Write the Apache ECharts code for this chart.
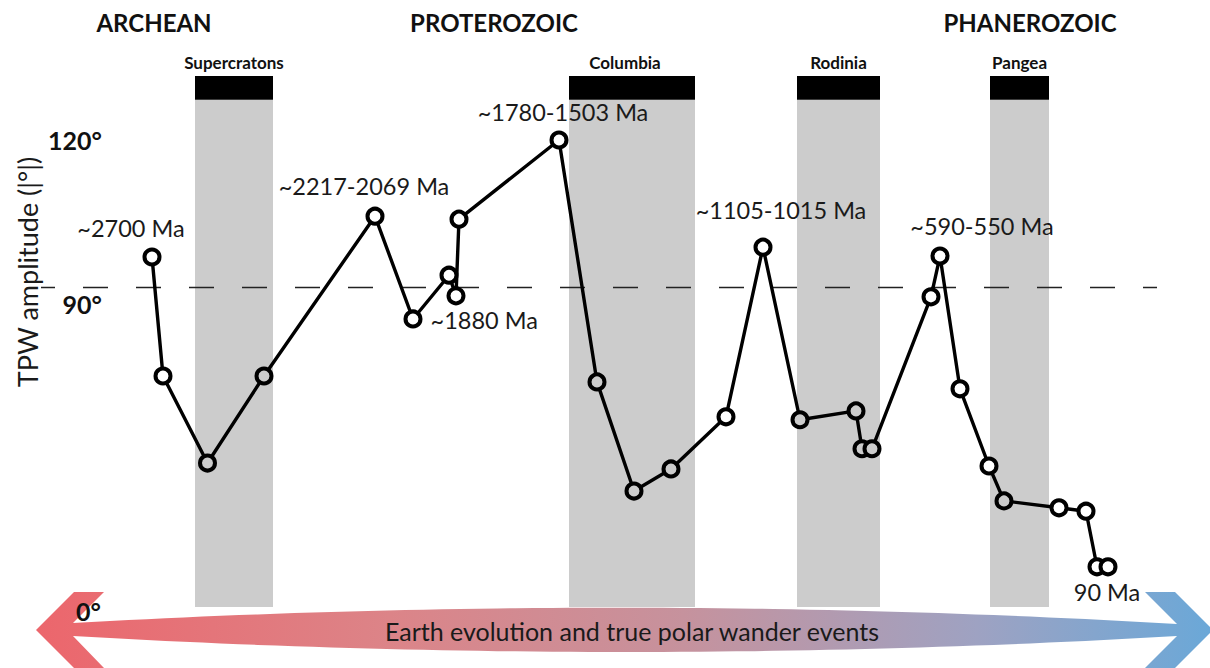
<!DOCTYPE html>
<html>
<head>
<meta charset="utf-8">
<script src="https://cdn.jsdelivr.net/npm/echarts@6/dist/echarts.min.js"></script>
<style>
html,body{margin:0;padding:0;background:#ffffff;}
#chart{width:1210px;height:668px;}
</style>
</head>
<body>
<div id="chart"></div>
<script>
// ---------- data ----------
// schematic time position along the evolution arrow (old -> young)
const xPos = [15.2, 16.3, 20.75, 26.4, 37.5, 41.3, 44.9, 45.6, 45.9, 55.9,
              59.7, 63.4, 67.1, 72.6, 76.3, 80.0, 85.6, 86.2, 87.2, 93.1,
              94.0, 96.0, 98.9, 100.4, 105.9, 108.6, 109.7, 110.8];
// TPW amplitude |°|
const tpw = [96.2, 72.0, 54.3, 72.0, 104.5, 83.6, 92.5, 88.3, 103.9, 120.0,
             70.8, 48.6, 53.1, 63.7, 98.2, 63.1, 64.9, 57.2, 57.2, 88.1,
             96.4, 69.4, 53.7, 46.6, 45.2, 44.5, 33.2, 33.2];
const eventIndex = [0, 4, 5, 9, 14, 20, 27];
const eventText = ['~2700 Ma', '~2217-2069 Ma', '~1880 Ma', '~1780-1503 Ma',
                   '~1105-1015 Ma', '~590-550 Ma', '90 Ma'];
const bandNames = ['Supercratons', 'Columbia', 'Rodinia', 'Pangea'];
const bandStart = [19.5, 56.9, 79.7, 99.0];
const bandEnd   = [27.3, 69.5, 88.0, 104.9];
const eraNames  = ['ARCHEAN', 'PROTEROZOIC', 'PHANEROZOIC'];
const eraCenter = [15.4, 49.4, 103.0];
const yTickValues = [120, 90];
const yTickText   = ['120°', '90°'];
const zeroText  = '0°';
const refLevel  = 90;
const refStart  = 4.1;
const refEnd    = 115.7;
const axisTitle = 'TPW amplitude (|°|)';
const arrowText = 'Earth evolution and true polar wander events';

// ---------- styling ----------
const FONT = 'Lato, "Open Sans", sans-serif';
const Y_MIN = 25, Y_MAX = 133;
const BAND_GRAY_TOP = 128.2;
const labelPlace = [
  {position: 'top',    offset: [-21, -3]},
  {position: 'top',    offset: [-11, -4]},
  {position: 'right',  offset: [3, 1]},
  {position: 'top',    offset: [4, -1]},
  {position: 'top',    offset: [18, -11]},
  {position: 'top',    offset: [42, -4]},
  {position: 'bottom', offset: [-1, -1]}
];

function inBand(x) {
  for (let i = 0; i < bandStart.length; i++) {
    if (x >= bandStart[i] && x <= bandEnd[i]) return true;
  }
  return false;
}

const lineData = xPos.map((x, i) => {
  const item = {
    value: [x, tpw[i]],
    itemStyle: {color: inBand(x) ? '#cccccc' : '#ffffff'}
  };
  const k = eventIndex.indexOf(i);
  if (k >= 0) {
    item.label = {
      show: true,
      formatter: eventText[k],
      position: labelPlace[k].position,
      offset: labelPlace[k].offset,
      distance: 5,
      fontFamily: FONT,
      fontSize: 23.5,
      color: '#1a1a1a'
    };
  }
  return item;
});

const grayAreas = bandNames.map((n, i) => [
  {xAxis: bandStart[i], yAxis: Y_MIN, itemStyle: {color: '#cccccc'}},
  {xAxis: bandEnd[i], yAxis: BAND_GRAY_TOP}
]);
const blackAreas = bandNames.map((n, i) => [
  {
    name: n, xAxis: bandStart[i], yAxis: BAND_GRAY_TOP,
    itemStyle: {color: '#000000'},
    label: {show: true, position: 'top', distance: 5, offset: [i === 1 ? -7 : 0, 0],
            formatter: n, fontFamily: FONT, fontWeight: 'bold', fontSize: 17, color: '#111'}
  },
  {xAxis: bandEnd[i], yAxis: Y_MAX}
]);

const chart = echarts.init(document.getElementById('chart'), null, {renderer: 'svg'});

const option = {
  animation: false,
  backgroundColor: '#ffffff',
  grid: {left: 0, right: 0, top: 76.07, bottom: 60.9, containLabel: false},
  xAxis: {type: 'value', min: 0, max: 121, show: false},
  yAxis: {type: 'value', min: Y_MIN, max: Y_MAX, show: false},
  series: [
    {
      type: 'line',
      name: 'bands',
      data: [],
      silent: true,
      z: 1,
      markArea: {silent: true, data: grayAreas.concat(blackAreas)}
    },
    {
      type: 'line',
      name: 'reference',
      data: [[refStart, refLevel], [refEnd, refLevel]],
      symbol: 'none',
      silent: true,
      z: 2,
      lineStyle: {color: '#222222', width: 1.6, type: [25, 28], dashOffset: 11}
    },
    {
      type: 'line',
      name: 'TPW',
      data: lineData,
      z: 5,
      symbol: 'circle',
      symbolSize: 15,
      showAllSymbol: true,
      lineStyle: {color: '#000000', width: 3.4},
      itemStyle: {borderColor: '#000000', borderWidth: 4},
      emphasis: {disabled: true}
    }
  ]
};
chart.setOption(option);

// ---------- decorative double arrow (spindle shaft + chevrons) ----------
function quad(p0, c, p1, n) {
  const pts = [];
  for (let i = 0; i <= n; i++) {
    const t = i / n, u = 1 - t;
    pts.push([u * u * p0[0] + 2 * u * t * c[0] + t * t * p1[0],
              u * u * p0[1] + 2 * u * t * c[1] + t * t * p1[1]]);
  }
  return pts;
}
const arrowPts = [[36, 630], [74, 592], [104, 592]]
  .concat(quad([73, 623], [627, 592], [1177, 624], 60))
  .concat([[1145, 592], [1175, 592], [1213, 630], [1175, 668], [1145, 668]])
  .concat(quad([1177, 636], [627, 668], [73, 636], 60))
  .concat([[104, 668], [74, 668]]);

const graphics = [];
graphics.push({
  type: 'polygon',
  z: 0,
  silent: true,
  shape: {points: arrowPts},
  style: {
    fill: {
      type: 'linear', x: 0, y: 0, x2: 1, y2: 0,
      colorStops: [
        {offset: 0, color: '#ec666c'},
        {offset: 0.3, color: '#dc8488'},
        {offset: 0.55, color: '#c6929d'},
        {offset: 0.8, color: '#9ea2c2'},
        {offset: 1, color: '#6aa8d8'}
      ]
    }
  }
});
graphics.push({
  type: 'text', z: 10, x: 632, y: 631,
  style: {text: arrowText, font: '25px ' + FONT, fill: '#1a1a1a', align: 'center', verticalAlign: 'middle'}
});
graphics.push({
  type: 'text', z: 10, x: 101, y: 611,
  style: {text: zeroText, font: 'bold 25px ' + FONT, fill: '#111', align: 'right', verticalAlign: 'middle'}
});
graphics.push({
  type: 'text', z: 10, x: 27, y: 272, rotation: Math.PI / 2,
  style: {text: axisTitle, font: '27px ' + FONT, fill: '#1a1a1a', align: 'center', verticalAlign: 'middle'}
});
yTickValues.forEach((v, i) => {
  const py = chart.convertToPixel({yAxisIndex: 0}, v);
  graphics.push({
    type: 'text', z: 10, x: 102, y: py + (v === refLevel ? 17 : 0),
    style: {text: yTickText[i], font: 'bold 25px ' + FONT, fill: '#111', align: 'right', verticalAlign: 'middle'}
  });
});
eraNames.forEach((n, i) => {
  const px = chart.convertToPixel({xAxisIndex: 0}, eraCenter[i]);
  graphics.push({
    type: 'text', z: 10, x: px, y: 22,
    style: {text: n, font: 'bold 24px ' + FONT, fill: '#111', align: 'center', verticalAlign: 'middle'}
  });
});
chart.setOption({graphic: graphics});
</script>
</body>
</html>
